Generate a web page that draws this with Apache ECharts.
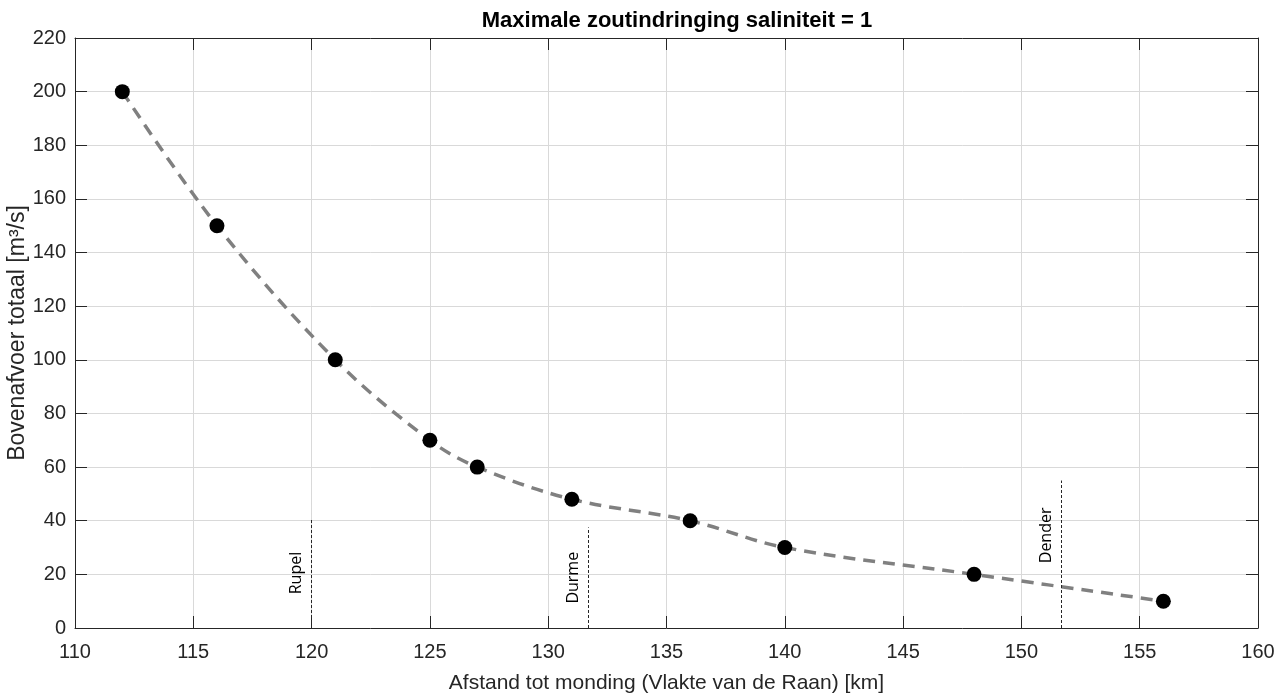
<!DOCTYPE html>
<html>
<head>
<meta charset="utf-8">
<script src="https://cdn.jsdelivr.net/npm/echarts@6/dist/echarts.min.js"></script>
<style>
  html, body { margin: 0; padding: 0; background: #fff; }
  #chart { width: 1287px; height: 697px; }
</style>
</head>
<body>
<div id="chart"></div>
<script>
// afstand (km) en bovenafvoer (m3/s)
const afstand = [112, 116, 121, 125, 127, 131, 136, 140, 148, 156];
const afvoer = [200, 150, 100, 70, 60, 48, 40, 30, 20, 10];

// zijrivieren: naam, positie en hoogte van de streepjeslijn
const rivierNamen = ['Rupel', 'Durme', 'Dender'];
const rivierKm = [120, 131.7, 151.7];
const rivierHoogte = [41, 37.5, 55];

const font = '"Liberation Sans", Arial, sans-serif';

const chart = echarts.init(document.getElementById('chart'), null, { renderer: 'canvas' });

const markData = rivierNamen.map((naam, i) => {
    const start = { coord: [rivierKm[i], 0], name: naam };
    // Dender-label staat hoger, dicht bij het einde van de lijn
    if (naam === 'Dender') {
        start.label = { position: 'insideEndTop', padding: [0, 20, 0, 0] };
    }
    return [start, { coord: [rivierKm[i], rivierHoogte[i]] }];
});

const tickStyle = { show: true, inside: true, length: 12, lineStyle: { color: '#262626' } };
const lineAxis = { show: true, onZero: false, lineStyle: { color: '#262626', width: 1 } };

const option = {
    animation: false,
    backgroundColor: '#fff',
    title: {
        text: 'Maximale zoutindringing saliniteit = 1',
        left: 672,
        top: 5,
        textAlign: 'center',
        textStyle: { fontFamily: font, fontSize: 22, fontWeight: 'bold', color: '#000' }
    },
    grid: { left: 75, right: 29, top: 38, bottom: 69, outerBoundsMode: 'none', containLabel: false },
    xAxis: [
        {
            type: 'value', min: 110, max: 160, interval: 5,
            name: 'Afstand tot monding (Vlakte van de Raan) [km]',
            nameLocation: 'middle', nameGap: 45, nameMoveOverlap: false,
            nameTextStyle: { fontFamily: font, fontSize: 21, color: '#262626' },
            axisLine: lineAxis,
            axisTick: tickStyle,
            axisLabel: { fontFamily: font, fontSize: 20, color: '#262626', margin: 14 },
            splitLine: { show: true, lineStyle: { color: '#d9d9d9', width: 1 } }
        },
        {
            type: 'value', min: 110, max: 160, interval: 5, position: 'top',
            axisLine: lineAxis,
            axisTick: tickStyle,
            axisLabel: { show: false },
            splitLine: { show: false }
        }
    ],
    yAxis: [
        {
            type: 'value', min: 0, max: 220, interval: 20,
            name: 'Bovenafvoer totaal [m³/s]',
            nameLocation: 'middle', nameGap: 46, nameMoveOverlap: false,
            nameTextStyle: { fontFamily: font, fontSize: 23, color: '#262626' },
            axisLine: lineAxis,
            axisTick: tickStyle,
            axisLabel: { fontFamily: font, fontSize: 20, color: '#262626', margin: 9 },
            splitLine: { show: true, lineStyle: { color: '#d9d9d9', width: 1 } }
        },
        {
            type: 'value', min: 0, max: 220, interval: 20, position: 'right',
            axisLine: lineAxis,
            axisTick: tickStyle,
            axisLabel: { show: false },
            splitLine: { show: false }
        }
    ],
    series: [
        {
            // streepjeslijn door de punten
            type: 'line',
            data: afstand.map((x, i) => [x, afvoer[i]]),
            smooth: 0.35,
            showSymbol: false,
            lineStyle: { color: '#808080', width: 3.5, type: [12, 8] },
            markLine: {
                silent: true,
                symbol: ['none', 'none'],
                lineStyle: { color: '#262626', width: 1, type: [3, 2] },
                label: {
                    show: true,
                    position: 'insideMiddleTop',
                    formatter: '{b}',
                    fontFamily: '"Open Sans", "Liberation Sans", sans-serif',
                    fontSize: 16,
                    color: '#000',
                    distance: 7
                },
                data: markData
            },
            z: 2
        },
        {
            type: 'scatter',
            data: afstand.map((x, i) => [x, afvoer[i]]),
            symbol: 'circle',
            symbolSize: 15,
            itemStyle: { color: '#000', opacity: 1 },
            z: 3
        }
    ]
};

chart.setOption(option);
</script>
</body>
</html>
